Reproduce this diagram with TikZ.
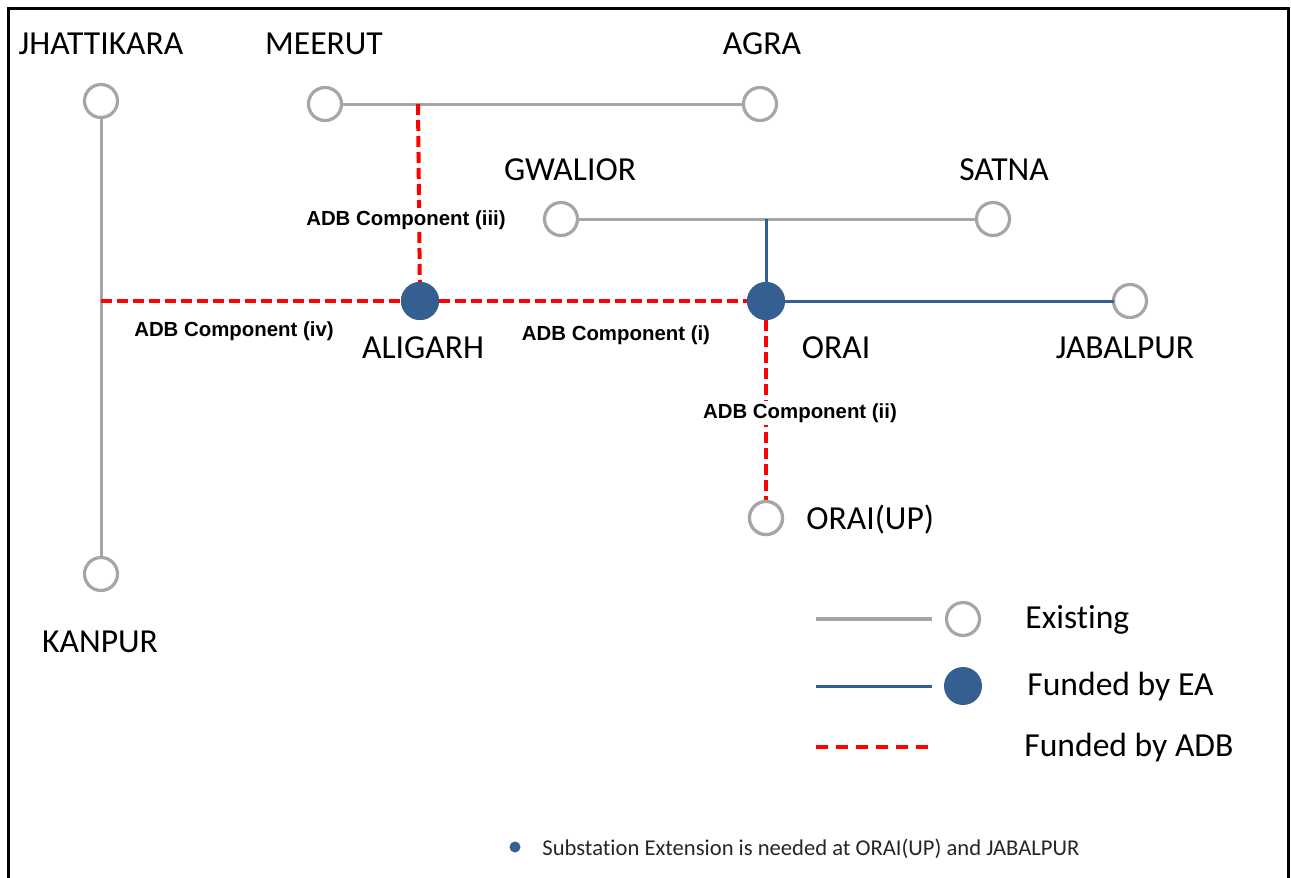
\documentclass[tikz,border=0pt]{standalone}
\usepackage{fontspec}
\setmainfont{Carlito}[Ligatures=NoCommon]
\newfontfamily\arialf{Liberation Sans}
\definecolor{exgray}{RGB}{166,166,166}
\definecolor{eablue}{RGB}{54,95,145}
\definecolor{adbred}{RGB}{255,0,0}
\begin{document}
\begin{tikzpicture}[x=0.5pt,y=-0.5pt,
  exnode/.style={circle,draw=exgray,line width=1.6pt,fill=white,minimum size=16.5pt,inner sep=0pt,outer sep=0pt},
  eanode/.style={circle,fill=eablue,minimum size=19pt,inner sep=0pt,outer sep=0pt},
  exline/.style={draw=exgray,line width=1.5pt},
  ealine/.style={draw=eablue,line width=1.5pt},
  adbline/.style={draw=adbred,line width=2pt,dash pattern=on 5.5pt off 2.5pt},
  city/.style={font=\fontsize{16.8}{19}\selectfont,text=black,inner sep=0pt},
  comp/.style={font=\arialf\bfseries\fontsize{10.2}{12}\selectfont,text=black,inner sep=1pt},
  legtext/.style={font=\fontsize{16.8}{19}\selectfont,text=black,anchor=west,inner sep=0pt}]
\clip (0,0) rectangle (1291,878);
\fill[white] (0,0) rectangle (1291,878);
\draw[line width=1.5pt,black] (8,900) -- (8,8) -- (1288,8) -- (1288,900);

% substations
\node[exnode] (jhat) at (101,101) {};
\node[exnode] (kanpur) at (101,574) {};
\node[exnode] (meerut) at (325,104) {};
\node[exnode] (agra) at (760,104) {};
\node[exnode] (gwalior) at (561,219) {};
\node[exnode] (satna) at (993,219) {};
\node[exnode] (jabalpur) at (1130,301) {};
\node[exnode] (oraiup) at (766,518) {};
\coordinate (j1) at (418,104);
\coordinate (j2) at (766,219);
\coordinate (j3) at (101,301);

% existing lines
\draw[exline] (jhat) -- (kanpur);
\draw[exline] (meerut) -- (agra);
\draw[exline] (gwalior) -- (satna);

% EA nodes placed, then lines
\node[eanode] (aligarh) at (420,301) {};
\node[eanode] (orai) at (766,301) {};
\draw[ealine] (j2) -- (orai);
\draw[ealine] (orai) -- (jabalpur);

% ADB lines
\draw[adbline] (j1) -- (aligarh);
\draw[adbline] (j3) -- (aligarh);
\draw[adbline] (aligarh) -- (orai);
\draw[adbline] (orai) -- (oraiup);

% redraw nodes on top
\node[eanode] at (aligarh) {};
\node[eanode] at (orai) {};
\node[exnode] at (oraiup) {};

% city labels
\node[city] (ljhat) at (101,44) {JHATTIKARA};
\node[city] (lmeerut) at (324,44) {MEERUT};
\node[city] (lagra) at (762,44) {AGRA};
\node[city] (lgwalior) at (570,170) {GWALIOR};
\node[city] (lsatna) at (1004,170) {SATNA};
\node[city] (laligarh) at (423,348) {ALIGARH};
\node[city] (lorai) at (836,348) {ORAI};
\node[city] (ljabalpur) at (1125,348) {JABALPUR};
\node[city,anchor=west] (loraiup) at (806,520) {ORAI(UP)};
\node[city] (lkanpur) at (100,642) {KANPUR};

% component labels
\node[comp,fill=white] (c3) at (406,220) {ADB Component (iii)};
\node[comp] (c4) at (234,331) {ADB Component (iv)};
\node[comp] (c1) at (616,335) {ADB Component (i)};
\node[comp,fill=white] (c2) at (800,413) {ADB Component (ii)};

% legend
\node[exnode] (lgex) at (963,619) {};
\coordinate (lgexa) at (816,619);
\draw[draw=exgray,line width=2pt] (lgexa) -- (932,619);
\node[eanode] (lgea) at (963,686) {};
\coordinate (lgeaa) at (816,686);
\draw[ealine] (lgeaa) -- (932,686);
\coordinate (lgadba) at (816,747);
\coordinate (lgadbb) at (928,747);
\draw[draw=adbred,line width=2pt,dash pattern=on 6pt off 4pt] (lgadba) -- (lgadbb);
\node[legtext] (tex) at (1025,620) {Existing};
\node[legtext] (tea) at (1027,687) {Funded by EA};
\node[legtext] (tadb) at (1024,748) {Funded by ADB};

% note
\node[circle,fill=eablue,minimum size=5.5pt,inner sep=0pt] (bullet) at (515,847) {};
\node[anchor=west,inner sep=0pt,font=\fontsize{11.3}{13}\selectfont,text=black!85] (note) at (542,849) {Substation Extension is needed at ORAI(UP) and JABALPUR};
\end{tikzpicture}
\end{document}
